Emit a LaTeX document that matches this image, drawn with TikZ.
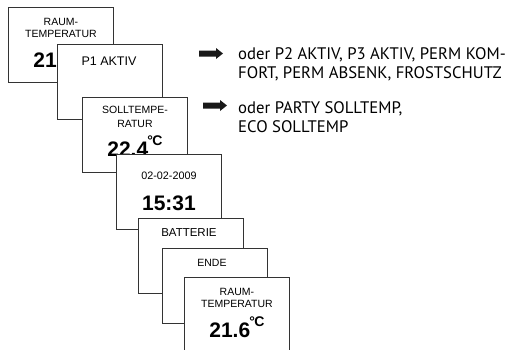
\documentclass[tikz,border=0pt]{standalone}
\usepackage{fontspec}
\usetikzlibrary{calc}
\setmainfont{Liberation Sans}
\newfontfamily\condfont{PT Sans}
\begin{document}
\begin{tikzpicture}[x=1pt,y=-1pt,
  panel/.style={draw=black!80, line width=0.9pt, fill=white, minimum width=105pt,
    minimum height=75pt, inner sep=0pt, anchor=north west},
  small/.style={font=\fontsize{10.5}{12}\selectfont, inner sep=0pt, anchor=base},
  mid/.style={font=\fontsize{12.5}{14}\selectfont, inner sep=0pt, anchor=base},
  big/.style={font=\fontsize{21}{24}\selectfont\bfseries, inner sep=0pt, anchor=base},
  note/.style={font=\condfont\fontsize{16.7}{19}\selectfont, inner sep=0pt, anchor=base west, align=left},
  bigarrow/.style={fill=black!90, draw=none}
]
\newcommand{\degC}{\kern-0.9pt\raisebox{10.5pt}{\fontsize{14}{14}\selectfont\bfseries °\kern-0.5pt C}}
\useasboundingbox (0,0) rectangle (506,349);
\clip (0,0) rectangle (506,349);

% box 1
\node[panel] (b1) at (8,7) {};
\node[small] (b1a) at ($(b1.north)+(0,18)$) {RAUM-};
\node[small] (b1b) at ($(b1.north)+(0,30.5)$) {TEMPERATUR};
\node[big] (b1c) at ($(b1.north)+(0,60)$) {21.6\degC};
% box 2
\node[panel] (b2) at (57,44) {};
\node[mid] (b2a) at ($(b2.north)+(-1,21)$) {P1 AKTIV};
% box 3
\node[panel] (b3) at (82,97) {};
\node[small] (b3a) at ($(b3.north)+(0,16.5)$) {SOLLTEMPE-};
\node[small] (b3b) at ($(b3.north)+(0,30)$) {RATUR};
\node[big] (b3c) at ($(b3.north)+(0,59)$) {22.4\degC};
% box 4
\node[panel] (b4) at (116,154) {};
\node[small, font=\fontsize{10.8}{12}\selectfont] (b4a) at ($(b4.north)+(0,25)$) {02-02-2009};
\node[big] (b4b) at ($(b4.north)+(0,56)$) {15:31};
% box 5
\node[panel] (b5) at (138,218) {};
\node[mid, font=\fontsize{11.5}{14}\selectfont] (b5a) at ($(b5.north)+(-2,18)$) {BATTERIE};
% box 6
\node[panel] (b6) at (162,248) {};
\node[mid, font=\fontsize{10.5}{14}\selectfont] (b6a) at ($(b6.north)+(-3,18)$) {ENDE};
% box 7
\node[panel] (b7) at (184,277) {};
\node[small] (b7a) at ($(b7.north)+(0,18.3)$) {RAUM-};
\node[small] (b7b) at ($(b7.north)+(0,30.7)$) {TEMPERATUR};
\node[big] (b7c) at ($(b7.north)+(0,60)$) {21.6\degC};

% notes
\coordinate (a1) at (199,53.5);
\fill[bigarrow] (a1) ++(0,-3) -- ++(17,0) -- ++(0,-2.5) -- ++(7,5.5) -- ++(-7,5.5) -- ++(0,-2.5) -- ++(-17,0) -- cycle;
\node[note] (n1) at (238,78) {oder P2 AKTIV, P3 AKTIV, PERM KOM-\\FORT, PERM ABSENK, FROSTSCHUTZ};
\coordinate (a2) at (203,105.5);
\fill[bigarrow] (a2) ++(0,-3) -- ++(17,0) -- ++(0,-2.5) -- ++(7,5.5) -- ++(-7,5.5) -- ++(0,-2.5) -- ++(-17,0) -- cycle;
\node[note] (n2) at (238,132) {oder PARTY SOLLTEMP,\\ECO SOLLTEMP};
\end{tikzpicture}
\end{document}
